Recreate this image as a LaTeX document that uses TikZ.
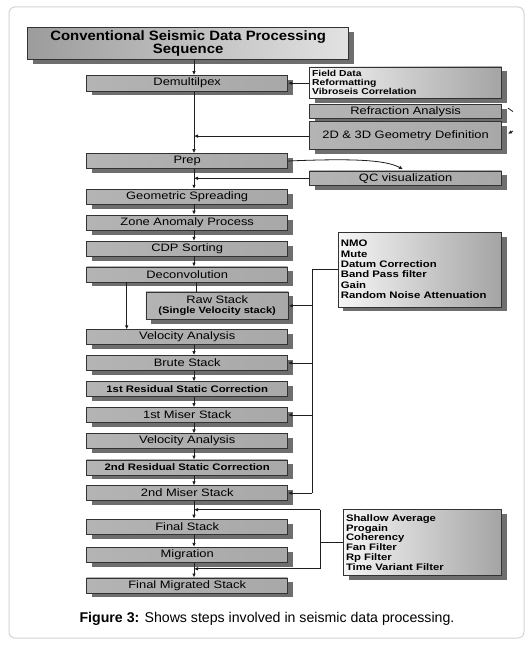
\documentclass[tikz,border=0pt]{standalone}
\usepackage{fontspec}
\setmainfont{Liberation Sans}
\newfontfamily\bxf[FakeStretch=1.2]{Liberation Sans}
\newfontfamily\ttlf[FakeStretch=1.1]{Liberation Sans}
\usetikzlibrary{shadows,arrows.meta}
\definecolor{shd}{HTML}{6E6E6E}
\definecolor{bxdark}{HTML}{A8A8A8}
\definecolor{bxlight}{HTML}{ECECEC}
\definecolor{bxleft}{HTML}{B4B4B4}
\definecolor{sdlight}{HTML}{F6F6F6}
\definecolor{sdmid}{HTML}{D8D8D8}
\definecolor{sddark}{HTML}{A4A4A4}
\definecolor{ttleft}{HTML}{9C9C9C}
\definecolor{ttright}{HTML}{E2E2E2}
\definecolor{framec}{HTML}{D4D4D4}
\definecolor{linec}{HTML}{1E1E1E}
\tikzset{
  shadowed/.style={drop shadow={shadow xshift=5bp,shadow yshift=-4.5bp,fill=shd,opacity=1}},
  mainbox/.style={draw=black!80, line width=0.6bp, shadowed,
    left color=bxleft, middle color=bxlight, right color=bxdark,
    minimum width=201bp, minimum height=15bp, inner sep=0pt,
    font=\bxf\fontsize{10.8}{12}\selectfont},
  sidebox/.style={draw=black!80, line width=0.6bp, shadowed,
    left color=sdlight, middle color=sdmid, right color=sddark,
    inner xsep=2.5bp, inner ysep=0pt, align=left,
    font=\bxf\bfseries\fontsize{9.5}{10.4}\selectfont},
  smallbold/.style={font=\bxf\bfseries\fontsize{9.5}{10.4}\selectfont},
  titlebox/.style={draw=black!80, line width=0.6bp, shadowed,
    left color=ttleft, right color=ttright,
    minimum width=320.8bp, minimum height=31.6bp, inner sep=0pt, align=center,
    font=\ttlf\bfseries\fontsize{13.6}{13}\selectfont},
  line/.style={draw=linec, line width=0.8bp},
  arr/.style={line, -{Latex[length=4bp,width=3.6bp]}},
}
\begin{document}
\begin{tikzpicture}[x=1bp,y=-1bp]
\useasboundingbox (0,0) rectangle (532,646);
\fill[white] (0,0) rectangle (532,646);
\draw[framec, line width=1bp, rounded corners=6bp] (9,7) rectangle (524,638);

% main column
\node[titlebox] (title) at (188.2,43.6) {Conventional Seismic Data Processing\\Sequence};
\node[mainbox, minimum height=15.6bp] (demux) at (187.2,83.2) {Demultilpex};
\node[mainbox] (prep) at (187.2,161) {Prep};
\node[mainbox] (geomsp) at (187.2,196.6) {Geometric Spreading};
\node[mainbox] (zone) at (187.2,222.5) {Zone Anomaly Process};
\node[mainbox] (cdp) at (187.2,248.6) {CDP Sorting};
\node[mainbox] (decon) at (187.2,274.4) {Deconvolution};
\node[mainbox, minimum width=142.5bp, minimum height=27.8bp, align=center] (raw) at (217.2,305.8)
  {Raw Stack\\[-1.5bp]{\bxf\bfseries\fontsize{9.3}{10}\selectfont (Single Velocity stack)}};
\node[mainbox] (vel1) at (187.2,337.2) {Velocity Analysis};
\node[mainbox] (brute) at (187.2,362.9) {Brute Stack};
\node[mainbox, smallbold] (res1) at (187.2,389.2) {1st Residual Static Correction};
\node[mainbox] (miser1) at (187.2,414.9) {1st Miser Stack};
\node[mainbox] (vel2) at (187.2,441.2) {Velocity Analysis};
\node[mainbox, smallbold] (res2) at (187.2,467.4) {2nd Residual Static Correction};
\node[mainbox] (miser2) at (187.2,493.1) {2nd Miser Stack};
\node[mainbox] (final) at (187.2,526.5) {Final Stack};
\node[mainbox] (mig) at (187.2,554.7) {Migration};
\node[mainbox] (fmig) at (187.2,585.3) {Final Migrated Stack};

% side boxes
\node[sidebox, text width=187bp, minimum height=31.5bp,
  font=\bxf\bfseries\fontsize{8.65}{9.2}\selectfont] (field) at (405.6,82.6)
  {Field Data\\Reformatting\\Vibroseis Correlation};
\node[mainbox, minimum width=192bp, minimum height=14.6bp] (refr) at (405.6,111.5) {Refraction Analysis};
\node[mainbox, minimum width=192bp, minimum height=28.2bp] (geom) at (405.6,135.3) {2D \& 3D Geometry Definition};
\node[mainbox, minimum width=192bp, minimum height=14.6bp] (qc) at (405.6,178.3) {QC visualization};
\node[sidebox, text width=158.3bp, minimum height=74.7bp] (nmo) at (420,269.5)
  {NMO\\Mute\\Datum Correction\\Band Pass filter\\Gain\\Random Noise Attenuation};
\node[sidebox, text width=153.2bp, minimum height=65.8bp,
  font=\bxf\bfseries\fontsize{9.45}{10}\selectfont] (shallow) at (422.6,542.6)
  {Shallow Average\\Progain\\Coherency\\Fan Filter\\Rp Filter\\Time Variant Filter};

% caption
\node[font=\fontsize{14.2}{16}\selectfont] (cap) at (267,619) {\textbf{Figure 3:} Shows steps involved in seismic data processing.};

% helper coordinates
\coordinate (mx) at (194,0);
\coordinate (lx) at (126.7,0);
\coordinate (rx) at (196,0);
\coordinate (fx) at (312.3,0);
\coordinate (fbt) at (320.1,509.7);
\coordinate (fbb) at (320.1,568.8);
\coordinate (rc) at (513,111.5);
\coordinate (gc) at (513,131);

% main flow
\draw[arr] (title.south -| mx) -- (demux.north -| mx);
\draw[arr] (demux.south -| mx) -- (prep.north -| mx);
\draw[arr] (prep.south -| mx) -- (geomsp.north -| mx);
\draw[arr] (geomsp.south -| mx) -- (zone.north -| mx);
\draw[arr] (zone.south -| mx) -- (cdp.north -| mx);
\draw[arr] (cdp.south -| mx) -- (decon.north -| mx);
\draw[arr] (decon.south -| lx) -- (vel1.north -| lx);
\draw[line] (decon.south -| rx) -- (raw.north -| rx);
\draw[arr] (vel1.south -| mx) -- (brute.north -| mx);
\draw[arr] (brute.south -| mx) -- (res1.north -| mx);
\draw[arr] (res1.south -| mx) -- (miser1.north -| mx);
\draw[arr] (miser1.south -| mx) -- (vel2.north -| mx);
\draw[arr] (vel2.south -| mx) -- (res2.north -| mx);
\draw[arr] (res2.south -| mx) -- (miser2.north -| mx);
\draw[arr] (miser2.south -| mx) -- (final.north -| mx);
\draw[arr] (final.south -| mx) -- (mig.north -| mx);
\draw[arr] (mig.south -| mx) -- (fmig.north -| mx);

% side inputs
\draw[arr] (field.west |- demux.east) -- (demux.east);
\draw[arr] (geom.west |- 0,136.1) -- (mx |- 0,136.1);
\draw[line] ([xshift=6bp,yshift=3bp]refr.east) .. controls (508,107.5) and (510,110) .. (rc);
\draw[arr] (gc) -- ([xshift=6bp,yshift=1.5bp]geom.east);
\draw[arr, shorten >=3bp] (prep.east) .. controls (350,158.5) and (385,159.5) .. (qc.north);
\draw[arr] (qc.west) -- (qc.west -| mx);

% NMO feedback
\draw[line] (nmo.west) -- (nmo.west -| fx) -- (miser2.east -| fx);
\draw[arr] (raw.east -| fx) -- (raw.east);
\draw[arr] (brute.east -| fx) -- (brute.east);
\draw[arr] (miser1.east -| fx) -- (miser1.east);
\draw[arr] (miser2.east -| fx) -- (miser2.east);

% Shallow feedback
\draw[line] (shallow.west) -- (shallow.west -| fbt);
\draw[line] (fbt) -- (fbb);
\draw[arr] (fbt) -- (fbt -| mx);
\draw[arr] (fbb) -- (fbb -| mx);
\end{tikzpicture}
\end{document}
